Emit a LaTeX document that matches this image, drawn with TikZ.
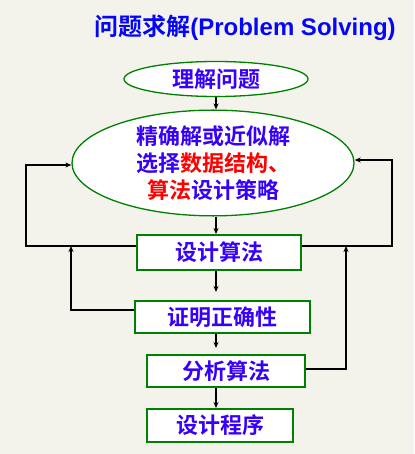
\documentclass[tikz,border=0pt]{standalone}
\usepackage{fontspec}
\setmainfont{Liberation Sans}
\newfontfamily\cjk{Noto Sans CJK SC}[BoldFont={Noto Sans CJK SC Bold}]
\usepackage{tikz}
\usetikzlibrary{
  arrows.meta,      % Stealth 箭头
  shapes.geometric, % 椭圆节点
  positioning       % 节点相对定位
}
\definecolor{bgpaper}{RGB}{243,243,235}
\definecolor{boxgreen}{RGB}{0,128,0}
\definecolor{txtblue}{RGB}{55,0,250}
\definecolor{titleblue}{RGB}{5,5,250}
\tikzset{
  oval node/.style={
    ellipse,
    draw=boxgreen,
    fill=white,
    line width=1.3pt,
    inner sep=0pt,
    font=\cjk\bfseries\fontsize{22}{27}\selectfont,
    text=txtblue
  },
  step box/.style={
    rectangle,
    draw=boxgreen,
    fill=white,
    line width=2pt,
    inner sep=0pt,
    font=\cjk\bfseries\fontsize{22}{25}\selectfont,
    text=txtblue
  },
  flow arrow/.style={
    -{Stealth[length=6pt,width=5pt]},
    line width=1.4pt,
    color=black
  }
}

\begin{document}
\begin{tikzpicture}[x=1pt, y=-1pt]
    % 1. 背景与标题
    \fill[bgpaper] (0,0) rectangle (414,454);
    \useasboundingbox (0,0) rectangle (414,454);
    \node[text=titleblue, font=\bfseries\fontsize{24}{28}\selectfont] (title) at (245,28)
      {{\cjk 问题求解}(Problem Solving)};

    % 2. 两个椭圆
    \node[oval node, minimum width=184pt, minimum height=35pt] (understand) at (216,79) {理解问题};
    \node[oval node, minimum width=282pt, minimum height=99pt, align=left] (choose) at (213,163)
      {精确解或近似解\\
       选择{\color{red}数据结构、}\\
       \hspace*{0.5em}{\color{red}算法}设计策略};

    % 3. 四个步骤方框
    \node[step box, minimum width=164pt, minimum height=35pt] (design) at (219,252.5) {设计算法};
    \node[step box, minimum width=175pt, minimum height=32pt] (prove) at (222.5,317) {证明正确性};
    \node[step box, minimum width=158pt, minimum height=32pt] (analyze) at (226,371) {分析算法};
    \node[step box, minimum width=146pt, minimum height=33pt] (program) at (220,425.5) {设计程序};

    % 4. 主干箭头 (x = 216)
    \draw[flow arrow] (understand.south) -- (choose.north -| understand.south);
    \draw[flow arrow] (choose.south -| understand.south) -- (design.north -| understand.south);
    \draw[flow arrow, shorten >=8pt] (design.south -| understand.south) -- (prove.north -| understand.south);
    \draw[flow arrow, shorten >=6pt] (prove.south -| understand.south) -- (analyze.north -| understand.south);
    \draw[flow arrow] (analyze.south -| understand.south) -- (program.north -| understand.south);

    % 5. 反馈回路
    \coordinate (loopL) at (26,246);
    \coordinate (loopR) at (392,246);
    \coordinate (backL) at (71,246);
    \coordinate (backR) at (346,246);
    \draw[flow arrow] (design.west |- loopL) -- (loopL) |- ([yshift=-2pt]choose.west);
    \draw[flow arrow] (design.east |- loopR) -- (loopR) |- ([yshift=3pt]choose.east);
    \draw[flow arrow] ([yshift=7pt]prove.west) -| (backL);
    \draw[flow arrow] ([yshift=2pt]analyze.east) -| (backR);

  \end{tikzpicture}
\end{document}
